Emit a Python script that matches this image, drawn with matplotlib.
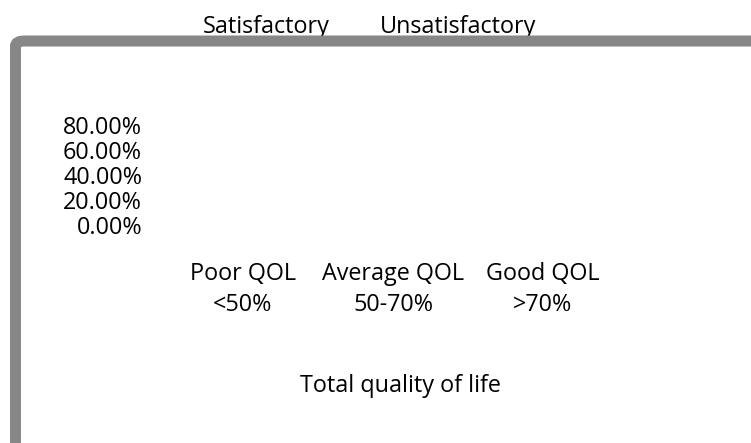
import matplotlib
matplotlib.use("Agg")
import matplotlib.pyplot as plt
from matplotlib.patches import FancyBboxPatch
import numpy as np

categories = ["Poor QOL\n<50%", "Average QOL\n50-70%", "Good QOL\n>70%"]
series_names = ["Satisfactory", "Unsatisfactory"]
# No bars are visible in the reference; values read as zero
satisfactory = [0.0, 0.0, 0.0]
unsatisfactory = [0.0, 0.0, 0.0]
yticks = [0.0, 0.2, 0.4, 0.6, 0.8]
ytick_labels = ["0.00%", "20.00%", "40.00%", "60.00%", "80.00%"]
xlabel = "Total quality of life"

plt.rcParams['font.family'] = ['Open Sans', 'DejaVu Sans']
FS = 16.8

W, H = 751, 443
fig = plt.figure(figsize=(W / 100, H / 100), dpi=100)

# axes placement in pixels
ax_left, ax_right = 168, 618
ax_bottom_px, ax_top_px = 225, 125
ax = fig.add_axes([ax_left / W, 1 - ax_bottom_px / H,
                   (ax_right - ax_left) / W, (ax_bottom_px - ax_top_px) / H])

x = np.arange(len(categories))
w = 0.35
ax.bar(x - w / 2, satisfactory, w, color="none", label=series_names[0])
ax.bar(x + w / 2, unsatisfactory, w, color="none", label=series_names[1])

ax.set_xlim(-0.5, 2.5)
ax.set_ylim(0, 0.8)
ax.set_yticks(yticks)
ax.set_yticklabels(ytick_labels, fontsize=FS)
ax.set_xticks(x)
ax.set_xticklabels(categories, fontsize=FS, linespacing=1.38)
ax.tick_params(axis='y', length=0, pad=(ax_left - 142) * 0.72)
ax.tick_params(axis='x', length=0, pad=27)
for s in ax.spines.values():
    s.set_visible(False)
ax.set_xlabel(xlabel, fontsize=FS)
ax.xaxis.set_label_coords((400 - ax_left) / (ax_right - ax_left),
                          (ax_bottom_px - 386) / (ax_bottom_px - ax_top_px))
ax.xaxis.label.set_va('center')

# legend as text only
fig.text(266 / W, 1 - 33 / H, series_names[0], ha='center', va='baseline', fontsize=FS)
fig.text(458 / W, 1 - 33 / H, series_names[1], ha='center', va='baseline', fontsize=FS)

# gray frame
lw_px = 11
frame = FancyBboxPatch((15.5 / W, -0.2), 1.2, 1.2 - (41 / H),
                       boxstyle="round,pad=0,rounding_size=0.012",
                       transform=fig.transFigure, fill=False,
                       edgecolor="#878787", linewidth=lw_px * 0.72,
                       clip_on=False, zorder=5)
fig.patches.append(frame)

fig.savefig("out.png", dpi=100)
